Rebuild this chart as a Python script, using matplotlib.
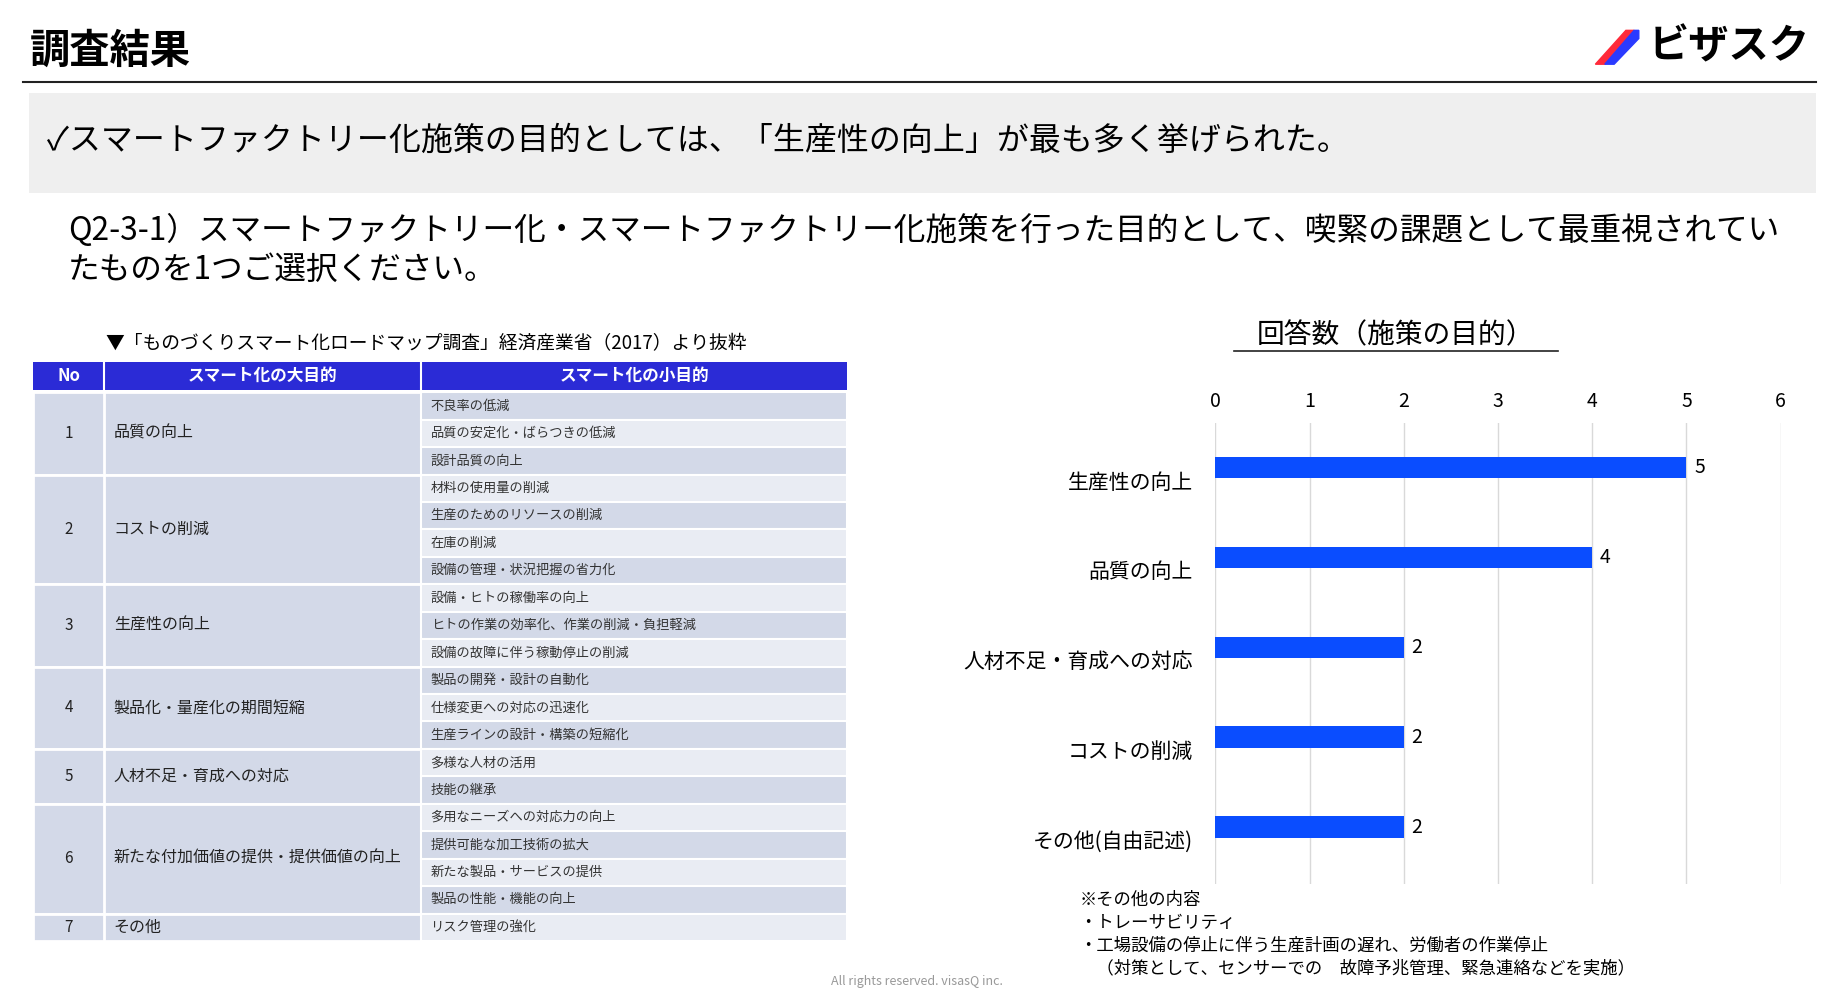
import matplotlib
matplotlib.use("Agg")
import matplotlib.pyplot as plt
from matplotlib.patches import Rectangle, Polygon
import matplotlib.transforms as mt

plt.rcParams["font.family"] = "Noto Sans CJK JP"

categories = ["生産性の向上", "品質の向上", "人材不足・育成への対応", "コストの削減", "その他(自由記述)"]
values = [5, 4, 2, 2, 2]
x_ticks = [0, 1, 2, 3, 4, 5, 6]

table_header = ["No", "スマート化の大目的", "スマート化の小目的"]
table_groups = [
    ("1", "品質の向上", ["不良率の低減", "品質の安定化・ばらつきの低減", "設計品質の向上"]),
    ("2", "コストの削減", ["材料の使用量の削減", "生産のためのリソースの削減", "在庫の削減", "設備の管理・状況把握の省力化"]),
    ("3", "生産性の向上", ["設備・ヒトの稼働率の向上", "ヒトの作業の効率化、作業の削減・負担軽減", "設備の故障に伴う稼動停止の削減"]),
    ("4", "製品化・量産化の期間短縮", ["製品の開発・設計の自動化", "仕様変更への対応の迅速化", "生産ラインの設計・構築の短縮化"]),
    ("5", "人材不足・育成への対応", ["多様な人材の活用", "技能の継承"]),
    ("6", "新たな付加価値の提供・提供価値の向上", ["多用なニーズへの対応力の向上", "提供可能な加工技術の拡大", "新たな製品・サービスの提供", "製品の性能・機能の向上"]),
    ("7", "その他", ["リスク管理の強化"]),
]
notes = ["※その他の内容", "・トレーサビリティ", "・工場設備の停止に伴う生産計画の遅れ、労働者の作業停止",
         "　（対策として、センサーでの　故障予兆管理、緊急連絡などを実施）"]

W, H = 1560, 848
fig = plt.figure(figsize=(18.3, 9.9), dpi=100)
bg = fig.add_axes([0, 0, 1, 1])
bg.set_xlim(0, W); bg.set_ylim(H, 0); bg.axis("off")

# header
bg.text(25, 44, "調査結果", fontsize=29, fontweight="bold", va="center", ha="left")
bg.plot([20, 1548], [70, 70], color="#222222", lw=1.5)
bg.add_patch(Polygon([[1360, 55], [1386, 26], [1393, 26], [1368, 55]], color="#ff2a3a"))
bg.add_patch(Polygon([[1368, 55], [1393, 26], [1397, 26], [1397, 33], [1376, 55]], color="#2a3aff"))
bg.text(1543, 40, "ビザスク", fontsize=29, fontweight="bold", va="center", ha="right")

bg.add_patch(Rectangle((25, 80), 1523, 85, color="#efefef", lw=0))
bg.text(40, 121, "✓スマートファクトリー化施策の目的としては、「生産性の向上」が最も多く挙げられた。",
        fontsize=23, va="center", ha="left")
bg.text(58, 197, "Q2-3-1）スマートファクトリー化・スマートファクトリー化施策を行った目的として、喫緊の課題として最重視されてい",
        fontsize=22.8, va="center", ha="left")
bg.text(58, 231, "たものを1つご選択ください。", fontsize=22.8, va="center", ha="left")

# table
bg.text(90, 294, "▼「ものづくりスマート化ロードマップ調査」経済産業省（2017）より抜粋", fontsize=13.5, va="center")
cols = [28, 89, 359, 722]
hy0, hy1 = 310, 334
bg.add_patch(Rectangle((28, hy0), 694, hy1 - hy0, color="#2b2bd6", lw=0))
for i, t in enumerate(table_header):
    bg.text((cols[i] + cols[i + 1]) / 2, (hy0 + hy1) / 2, t, color="white", fontsize=12,
            fontweight="bold", ha="center", va="center")
    if i > 0:
        bg.plot([cols[i]] * 2, [hy0, hy1], color="white", lw=1.5)
rowh = (806 - 336) / 20
y = 336
k = 0
for no, big, subs in table_groups:
    gh = rowh * len(subs)
    bg.add_patch(Rectangle((cols[0], y), cols[2] - cols[0], gh, facecolor="#d3d9e8", edgecolor="white", lw=2))
    bg.plot([cols[1]] * 2, [y, y + gh], color="white", lw=2)
    bg.text((cols[0] + cols[1]) / 2, y + gh / 2, no, fontsize=11, ha="center", va="center", color="#222")
    bg.text(cols[1] + 8, y + gh / 2, big, fontsize=11.5, ha="left", va="center", color="#222")
    for j, s in enumerate(subs):
        fc = "#d3d9e8" if k % 2 == 0 else "#e9ecf3"
        bg.add_patch(Rectangle((cols[2], y + j * rowh), cols[3] - cols[2], rowh, facecolor=fc, edgecolor="white", lw=1.5))
        bg.text(cols[2] + 8, y + (j + 0.5) * rowh, s, fontsize=9.5, ha="left", va="center", color="#333")
        k += 1
    y += gh

# chart
bg.text(1190, 287, "回答数（施策の目的）", fontsize=20, ha="center", va="center")
bg.plot([1052, 1328], [301, 301], color="#222", lw=1.2)
ax = fig.add_axes([1036 / W, 1 - 757 / H, (1518 - 1036) / W, (757 - 362) / H])
ypos = list(range(len(categories)))
ax.barh(ypos, values, height=0.24, color="#0a4dff")
ax.set_xlim(0, 6); ax.set_ylim(4.63, -0.5)
ax.set_xticks(x_ticks)
ax.xaxis.tick_top()
ax.tick_params(axis="x", length=0, labelsize=14, pad=8)
ax.set_yticks(ypos)
ax.set_yticklabels(categories, fontsize=15)
ax.tick_params(axis="y", length=0, pad=16)
ax.grid(axis="x", color="#d9d9d9", lw=1)
ax.set_axisbelow(True)
for s in ax.spines.values():
    s.set_visible(False)
for yp, v in zip(ypos, values):
    ax.text(v + 0.08, yp, str(v), fontsize=14, va="center", ha="left")
off = mt.ScaledTranslation(0, -9 / 72, fig.dpi_scale_trans)
for lbl in ax.get_yticklabels():
    lbl.set_transform(lbl.get_transform() + off)

for i, n in enumerate(notes):
    bg.text(920, 771 + i * 19.5, n, fontsize=12.5, ha="left", va="center")
bg.text(782, 841, "All rights reserved. visasQ inc.", fontsize=9, color="#999", ha="center", va="center")

fig.savefig("out.png", dpi=100)
